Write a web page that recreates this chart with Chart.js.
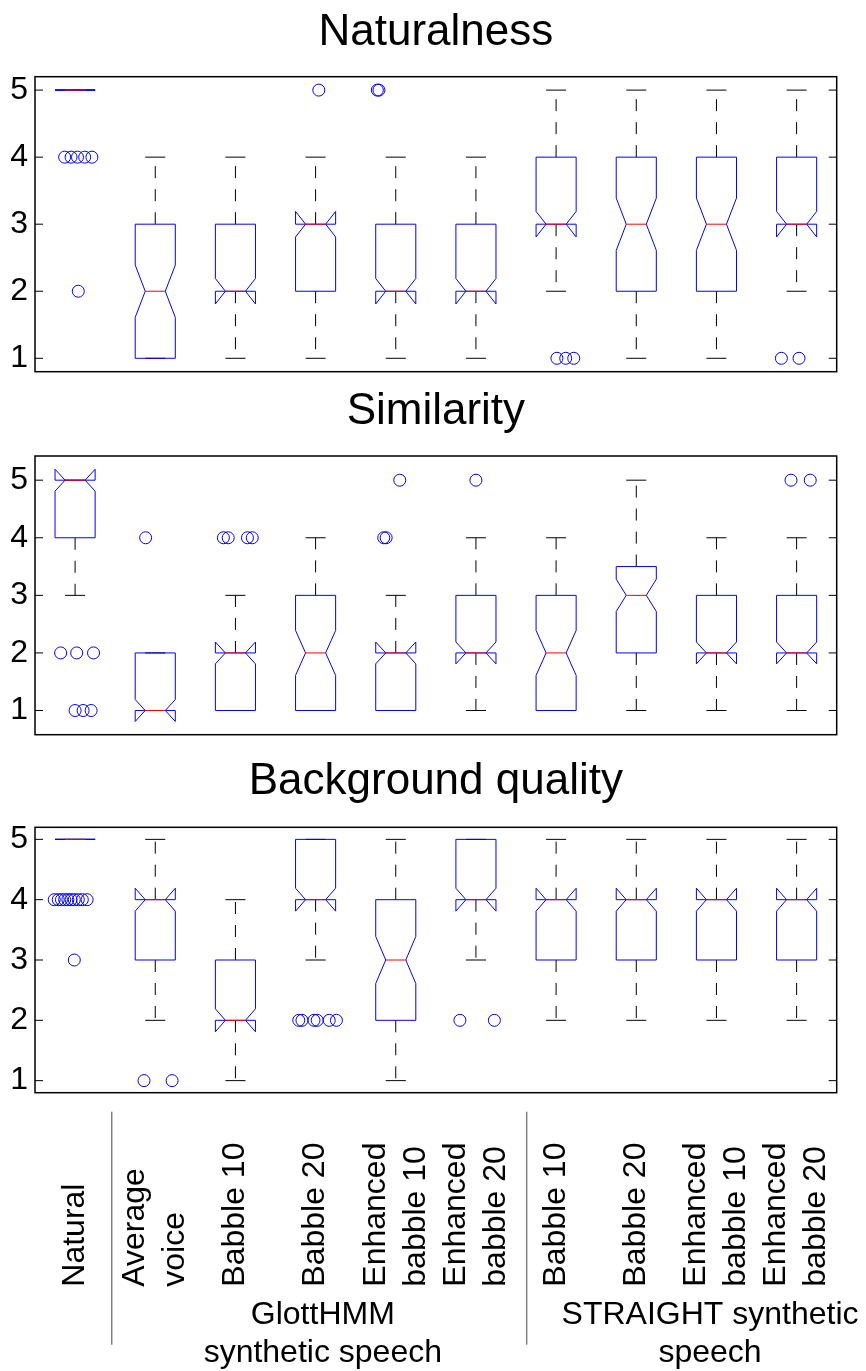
<!DOCTYPE html>
<html>
<head>
<meta charset="utf-8">
<script src="https://cdn.jsdelivr.net/npm/chart.js@4.4.1/dist/chart.umd.min.js"></script>
<style>
  body { margin: 0; background: #fff; }
  #wrap { position: relative; width: 866px; height: 1371px; background: #fff; }
  canvas { position: absolute; left: 0; }
</style>
</head>
<body>
<div id="wrap">
  <canvas id="natChart" width="866" height="390" style="top:0px"></canvas>
  <canvas id="simChart" width="866" height="370" style="top:380px"></canvas>
  <canvas id="bgChart" width="866" height="631" style="top:740px"></canvas>
</div>
<script>
const FONT = "'Liberation Sans', Arial, Helvetica, sans-serif";
const BLUE = '#0000ff';
const RED = '#ff0000';

// categories along x (1..10)
const categories = ['Natural', ['Average', 'voice'], 'Babble 10', 'Babble 20',
  ['Enhanced', 'babble 10'], ['Enhanced', 'babble 20'],
  'Babble 10', 'Babble 20', ['Enhanced', 'babble 10'], ['Enhanced', 'babble 20']];
const groupLabels = [['GlottHMM', 'synthetic speech'], ['STRAIGHT synthetic', 'speech']];
const yTicks = [1, 2, 3, 4, 5];

// Naturalness
const natMin = [5, 1, 1, 1, 1, 1, 2, 1, 1, 2];
const natQ1  = [5, 1, 2, 2, 2, 2, 3, 2, 2, 3];
const natMed = [5, 2, 2, 3, 2, 2, 3, 3, 3, 3];
const natQ3  = [5, 3, 3, 3, 3, 3, 4, 4, 4, 4];
const natMax = [5, 4, 4, 4, 4, 4, 5, 5, 5, 5];
const natNotchLo = [5, 1.61, 1.81, 2.81, 1.81, 1.81, 2.81, 2.61, 2.61, 2.81];
const natNotchHi = [5, 2.39, 2.19, 3.19, 2.19, 2.19, 3.19, 3.39, 3.39, 3.19];
// [box, value, jitter]
const natOutliers = [[1, 4, -0.13], [1, 4, -0.05], [1, 4, 0.03], [1, 4, 0.12], [1, 4, 0.21], [1, 2, 0.04],
  [4, 5, 0.04], [5, 5, -0.23], [5, 5, -0.21],
  [7, 1, 0.01], [7, 1, 0.12], [7, 1, 0.22], [10, 1, -0.19], [10, 1, 0.03]];

// Similarity
const simMin = [3, 1, 1, 1, 1, 1, 1, 1, 1, 1];
const simQ1  = [4, 1, 1, 1, 1, 2, 1, 2, 2, 2];
const simMed = [5, 1, 2, 2, 2, 2, 2, 3, 2, 2];
const simQ3  = [5, 2, 2, 3, 2, 3, 3, 3.5, 3, 3];
const simMax = [5, 2, 3, 4, 3, 4, 4, 5, 4, 4];
const simNotchLo = [4.81, 0.81, 1.81, 1.61, 1.81, 1.81, 1.61, 2.72, 1.81, 1.81];
const simNotchHi = [5.19, 1.19, 2.19, 2.39, 2.19, 2.19, 2.39, 3.28, 2.19, 2.19];
const simOutliers = [[1, 2, -0.18], [1, 2, 0.02], [1, 2, 0.23], [1, 1, 0.0], [1, 1, 0.1], [1, 1, 0.2],
  [2, 4, -0.12], [3, 4, -0.15], [3, 4, -0.09], [3, 4, 0.15], [3, 4, 0.21],
  [5, 4, -0.15], [5, 4, -0.12], [5, 5, 0.05], [6, 5, 0.0], [10, 5, -0.07], [10, 5, 0.17]];

// Background quality
const bgMin = [5, 2, 1, 3, 1, 3, 2, 2, 2, 2];
const bgQ1  = [5, 3, 2, 4, 2, 4, 3, 3, 3, 3];
const bgMed = [5, 4, 2, 4, 3, 4, 4, 4, 4, 4];
const bgQ3  = [5, 4, 3, 5, 4, 5, 4, 4, 4, 4];
const bgMax = [5, 5, 4, 5, 5, 5, 5, 5, 5, 5];
const bgNotchLo = [5, 3.81, 1.81, 3.81, 2.61, 3.81, 3.81, 3.81, 3.81, 3.81];
const bgNotchHi = [5, 4.19, 2.19, 4.19, 3.39, 4.19, 4.19, 4.19, 4.19, 4.19];
const bgOutliers = [[1, 4, -0.26], [1, 4, -0.21], [1, 4, -0.17], [1, 4, -0.13], [1, 4, -0.09], [1, 4, -0.05],
  [1, 4, -0.01], [1, 4, 0.04], [1, 4, 0.09], [1, 4, 0.15], [1, 3, -0.01],
  [2, 1, -0.14], [2, 1, 0.21],
  [4, 2, -0.21], [4, 2, -0.17], [4, 2, -0.02], [4, 2, 0.02], [4, 2, 0.17], [4, 2, 0.26],
  [6, 2, -0.2], [6, 2, 0.23]];

function line(ctx, x1, y1, x2, y2) {
  ctx.beginPath();
  ctx.moveTo(x1, y1);
  ctx.lineTo(x2, y2);
  ctx.stroke();
}

function bottomLabels(chart) {
  const {ctx, chartArea, scales: {x}} = chart;
  const base = chartArea.bottom;
  ctx.save();
  ctx.fillStyle = '#000';
  ctx.font = '32px ' + FONT;
  categories.forEach((lab, i) => {
    const lines = Array.isArray(lab) ? lab : [lab];
    ctx.save();
    ctx.translate(x.getPixelForValue(i + 1), base + 194);
    ctx.rotate(-Math.PI / 2);
    ctx.textAlign = 'left';
    ctx.textBaseline = 'middle';
    lines.forEach((t, k) => ctx.fillText(t, 0, (k - (lines.length - 1) / 2) * 40));
    ctx.restore();
  });
  // group captions and separators
  const groupAt = [4.09, 8.92];
  ctx.textAlign = 'center';
  ctx.textBaseline = 'alphabetic';
  groupLabels.forEach((g, i) => {
    g.forEach((t, k) => ctx.fillText(t, x.getPixelForValue(groupAt[i]), base + 231 + k * 38));
  });
  ctx.strokeStyle = '#808080';
  ctx.lineWidth = 1.5;
  [1.457, 6.633].forEach(v => {
    const px = x.getPixelForValue(v);
    line(ctx, px, base + 19, px, base + 252);
  });
  ctx.restore();
}

function makePanel(id, title, st, outliers, yMin, yMax, pad, extra) {
  const boxPlugin = {
    id: 'notchBoxes',
    beforeDatasetsDraw(chart) {
      const {ctx, scales: {x, y}} = chart;
      const Y = v => y.getPixelForValue(v);
      const w = 0.25;
      ctx.save();
      ctx.lineWidth = 1;
      for (let i = 0; i < categories.length; i++) {
        const c = i + 1;
        const px = x.getPixelForValue(c);
        const L = x.getPixelForValue(c - w), R = x.getPixelForValue(c + w);
        const cl = x.getPixelForValue(c - w / 2), cr = x.getPixelForValue(c + w / 2);
        // whiskers
        ctx.strokeStyle = '#000';
        ctx.setLineDash([12, 11]);
        if (st.max[i] > st.q3[i]) line(ctx, px, Y(st.q3[i]), px, Y(st.max[i]));
        if (st.min[i] < st.q1[i]) line(ctx, px, Y(st.q1[i]), px, Y(st.min[i]));
        ctx.setLineDash([]);
        line(ctx, cl, Y(st.max[i]), cr, Y(st.max[i]));
        line(ctx, cl, Y(st.min[i]), cr, Y(st.min[i]));
        // notched box
        ctx.strokeStyle = BLUE;
        ctx.beginPath();
        ctx.moveTo(L, Y(st.q1[i]));
        ctx.lineTo(L, Y(st.lo[i]));
        ctx.lineTo(cl, Y(st.med[i]));
        ctx.lineTo(L, Y(st.hi[i]));
        ctx.lineTo(L, Y(st.q3[i]));
        ctx.lineTo(R, Y(st.q3[i]));
        ctx.lineTo(R, Y(st.hi[i]));
        ctx.lineTo(cr, Y(st.med[i]));
        ctx.lineTo(R, Y(st.lo[i]));
        ctx.lineTo(R, Y(st.q1[i]));
        ctx.closePath();
        ctx.stroke();
        // median
        ctx.strokeStyle = RED;
        line(ctx, cl, Y(st.med[i]), cr, Y(st.med[i]));
      }
      ctx.restore();
    },
    afterDraw(chart) {
      const {ctx, chartArea: a, scales: {y}} = chart;
      ctx.save();
      ctx.strokeStyle = '#000';
      ctx.lineWidth = 1.5;
      ctx.strokeRect(a.left, a.top, a.right - a.left, a.bottom - a.top);
      ctx.lineWidth = 1;
      yTicks.forEach(v => {
        const py = y.getPixelForValue(v);
        line(ctx, a.left, py, a.left + 8, py);
        line(ctx, a.right - 8, py, a.right, py);
      });
      ctx.restore();
      if (extra) extra(chart);
    }
  };

  return new Chart(document.getElementById(id), {
    type: 'scatter',
    data: {
      datasets: [{
        data: outliers.map(o => ({x: o[0] + o[2], y: o[1]})),
        pointStyle: 'circle',
        pointRadius: 6,
        pointHoverRadius: 6,
        borderWidth: 1,
        borderColor: BLUE,
        backgroundColor: 'rgba(0,0,0,0)'
      }]
    },
    options: {
      responsive: false,
      animation: false,
      devicePixelRatio: 1,
      layout: {padding: {left: 0, right: 29.3, top: 0, bottom: pad.bottom}},
      plugins: {
        legend: {display: false},
        tooltip: {enabled: false},
        title: {
          display: true,
          text: title,
          fullSize: false,
          color: '#000',
          font: {family: FONT, size: 44, weight: 'normal'},
          padding: {top: pad.titleTop, bottom: pad.titleBottom}
        }
      },
      scales: {
        x: {type: 'linear', min: 0.5, max: 10.5, display: false},
        y: {
          min: yMin,
          max: yMax,
          afterFit: a => { a.width = 35; a.paddingTop = 0; a.paddingBottom = 0; },
          afterBuildTicks: a => { a.ticks = yTicks.map(v => ({value: v})); },
          grid: {display: false, drawTicks: false},
          border: {display: false},
          ticks: {color: '#000', padding: 7, font: {family: FONT, size: 32}}
        }
      }
    },
    plugins: [boxPlugin]
  });
}

makePanel('natChart', 'Naturalness',
  {min: natMin, q1: natQ1, med: natMed, q3: natQ3, max: natMax, lo: natNotchLo, hi: natNotchHi},
  natOutliers, 0.8, 5.2, {titleTop: 6.7, titleBottom: 17.2, bottom: 18.3});
makePanel('simChart', 'Similarity',
  {min: simMin, q1: simQ1, med: simMed, q3: simQ3, max: simMax, lo: simNotchLo, hi: simNotchHi},
  simOutliers, 0.58, 5.42, {titleTop: 5.4, titleBottom: 17.8, bottom: 15.3});
makePanel('bgChart', 'Background quality',
  {min: bgMin, q1: bgQ1, med: bgMed, q3: bgQ3, max: bgMax, lo: bgNotchLo, hi: bgNotchHi},
  bgOutliers, 0.8, 5.2, {titleTop: 15.1, titleBottom: 19.4, bottom: 278.3}, bottomLabels);
</script>
</body>
</html>
